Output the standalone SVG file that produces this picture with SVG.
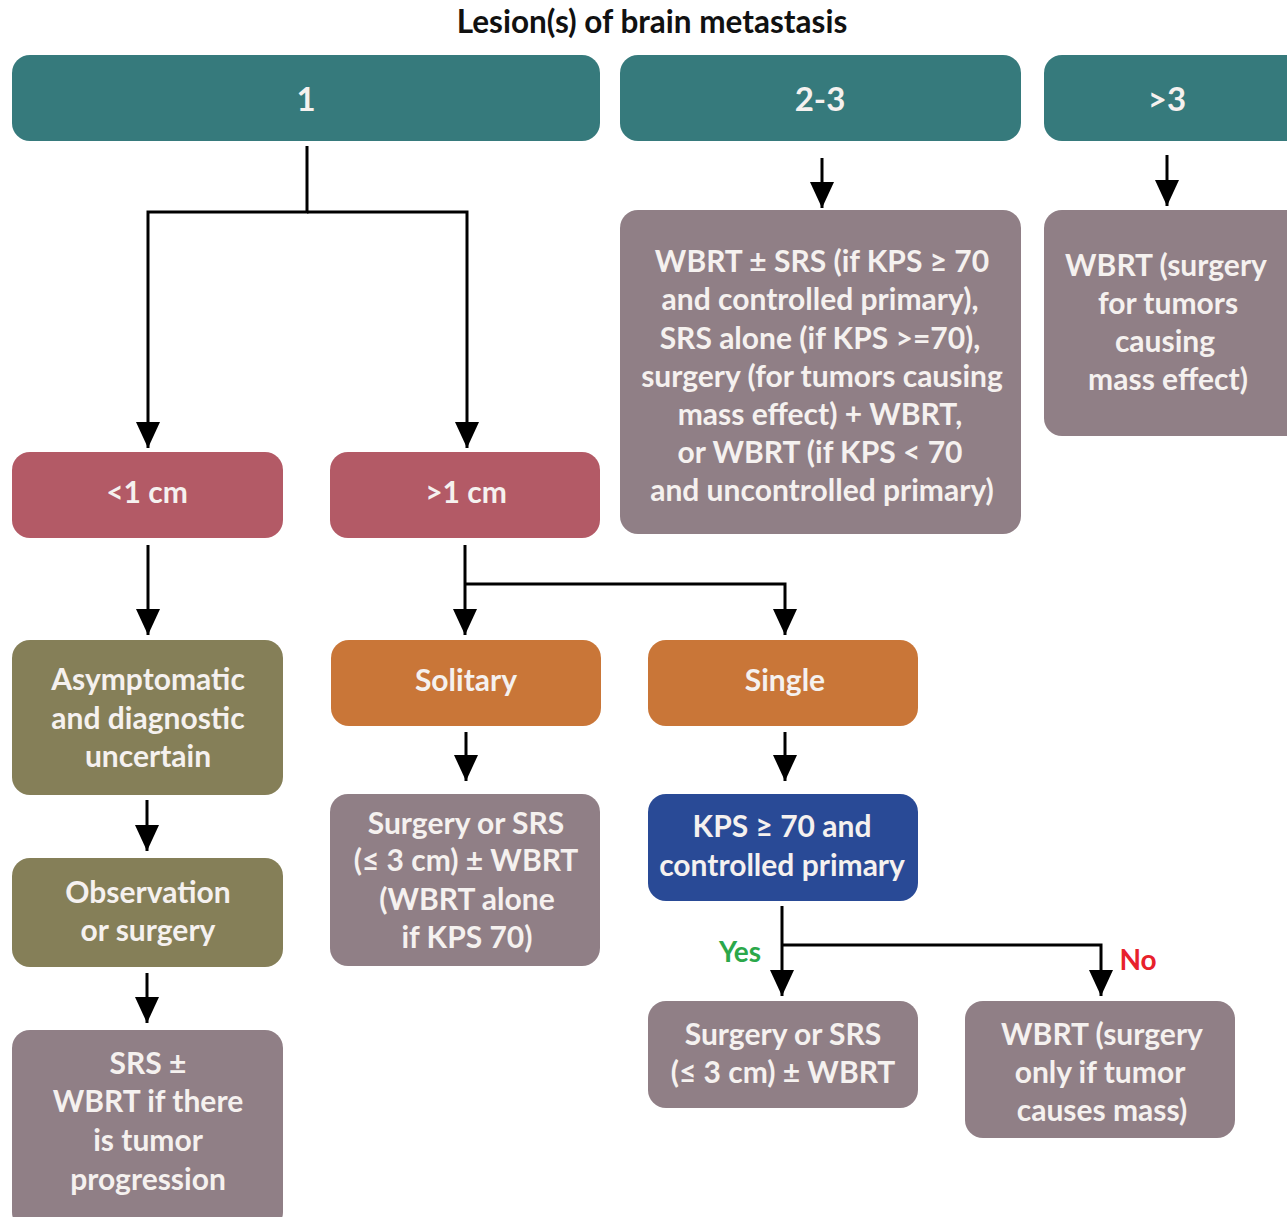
<svg xmlns="http://www.w3.org/2000/svg" width="1287" height="1217" viewBox="0 0 1287 1217">
<defs>
<marker id="ah" markerWidth="26" markerHeight="24" refX="26" refY="12" orient="auto" markerUnits="userSpaceOnUse">
<path d="M0,0 L26,12 L0,24 Z" fill="#000"/>
</marker>
<style>
text{font-family:"Lato","Open Sans",sans-serif;text-anchor:middle;font-weight:bold;}
.t{fill:#F5F1EF;font-size:30px;}
.big{font-size:33px;}
.teal{fill:#367A7C;}
.red{fill:#B35A66;}
.grey{fill:#907F86;}
.olive{fill:#857F58;}
.orange{fill:#C97638;}
.blue{fill:#294A96;}
.c{fill:none;stroke:#000;stroke-width:3;}
</style>
</defs>
<rect width="1287" height="1217" fill="#fff"/>
<text x="652" y="33" style="font-size:31.5px;font-weight:bold;fill:#111">Lesion(s) of brain metastasis</text>

<g id="n1"><rect class="teal" x="12" y="55" width="588" height="86" rx="18"/><text class="t big" x="306" y="111">1</text></g>
<g id="n23"><rect class="teal" x="620" y="55" width="401" height="86" rx="18"/><text class="t big" x="820" y="111">2-3</text></g>
<g id="n3"><rect class="teal" x="1044" y="55" width="260" height="86" rx="18"/><text class="t big" x="1167" y="111">&gt;3</text></g>

<g id="lt1"><rect class="red" x="12" y="452" width="271" height="86" rx="18"/><text class="t" x="147" y="503">&lt;1 cm</text></g>
<g id="gt1"><rect class="red" x="330" y="452" width="270" height="86" rx="18"/><text class="t" x="466" y="503">&gt;1 cm</text></g>

<g id="wbrt23"><rect class="grey" x="620" y="210" width="401" height="324" rx="18"/>
<text class="t" x="822" y="272">WBRT ± SRS (if KPS ≥ 70</text>
<text class="t" x="820" y="310">and controlled primary),</text>
<text class="t" x="820" y="349">SRS alone (if KPS &gt;=70),</text>
<text class="t" x="822" y="387">surgery (for tumors causing</text>
<text class="t" x="820" y="425">mass effect) + WBRT,</text>
<text class="t" x="820" y="463">or WBRT (if KPS &lt; 70</text>
<text class="t" x="822" y="501">and uncontrolled primary)</text>
</g>
<g id="wbrt3"><rect class="grey" x="1044" y="210" width="260" height="226" rx="18"/>
<text class="t" x="1166" y="276">WBRT (surgery</text>
<text class="t" x="1168" y="314">for tumors</text>
<text class="t" x="1165" y="352">causing</text>
<text class="t" x="1168" y="390">mass effect)</text>
</g>

<g id="asym"><rect class="olive" x="12" y="640" width="271" height="155" rx="18"/>
<text class="t" x="148" y="690">Asymptomatic</text>
<text class="t" x="148" y="729">and diagnostic</text>
<text class="t" x="148" y="767">uncertain</text>
</g>
<g id="solitary"><rect class="orange" x="331" y="640" width="270" height="86" rx="18"/><text class="t" x="466" y="691">Solitary</text></g>
<g id="single"><rect class="orange" x="648" y="640" width="270" height="86" rx="18"/><text class="t" x="785" y="691">Single</text></g>

<g id="obs"><rect class="olive" x="12" y="858" width="271" height="109" rx="18"/>
<text class="t" x="148" y="903">Observation</text>
<text class="t" x="148" y="941">or surgery</text>
</g>
<g id="srs"><rect class="grey" x="12" y="1030" width="271" height="200" rx="18"/>
<text class="t" x="148" y="1074">SRS ±</text>
<text class="t" x="148" y="1112">WBRT if there</text>
<text class="t" x="148" y="1151">is tumor</text>
<text class="t" x="148" y="1190">progression</text>
</g>
<g id="solsurg"><rect class="grey" x="330" y="794" width="270" height="172" rx="18"/>
<text class="t" x="466" y="834">Surgery or SRS</text>
<text class="t" x="466" y="871">(≤ 3 cm) ± WBRT</text>
<text class="t" x="467" y="910">(WBRT alone</text>
<text class="t" x="467" y="948">if KPS 70)</text>
</g>
<g id="kps"><rect class="blue" x="648" y="794" width="270" height="107" rx="18"/>
<text class="t" x="782" y="837">KPS ≥ 70 and</text>
<text class="t" x="782" y="876">controlled primary</text>
</g>
<g id="yes"><rect class="grey" x="648" y="1001" width="270" height="107" rx="18"/>
<text class="t" x="783" y="1045">Surgery or SRS</text>
<text class="t" x="783" y="1083">(≤ 3 cm) ± WBRT</text>
</g>
<g id="no"><rect class="grey" x="965" y="1001" width="270" height="137" rx="18"/>
<text class="t" x="1102" y="1045">WBRT (surgery</text>
<text class="t" x="1100" y="1083">only if tumor</text>
<text class="t" x="1102" y="1121">causes mass)</text>
</g>

<g id="connectors">
<path class="c" d="M307,146 V212 H148 V448" marker-end="url(#ah)"/>
<path class="c" d="M307,212 H467 V448" marker-end="url(#ah)"/>
<path class="c" d="M822,158 V208" marker-end="url(#ah)"/>
<path class="c" d="M1167,155 V206" marker-end="url(#ah)"/>
<path class="c" d="M148,545 V635" marker-end="url(#ah)"/>
<path class="c" d="M465,545 V635" marker-end="url(#ah)"/>
<path class="c" d="M465,584 H785 V635" marker-end="url(#ah)"/>
<path class="c" d="M466,732 V781" marker-end="url(#ah)"/>
<path class="c" d="M785,732 V781" marker-end="url(#ah)"/>
<path class="c" d="M147,800 V851" marker-end="url(#ah)"/>
<path class="c" d="M147,973 V1023" marker-end="url(#ah)"/>
<path class="c" d="M782,906 V996" marker-end="url(#ah)"/>
<path class="c" d="M782,945 H1101 V996" marker-end="url(#ah)"/>
<text x="740" y="962" style="font-size:28px;fill:#2BA84A">Yes</text>
<text x="1138" y="970" style="font-size:28px;fill:#E8212B">No</text>
</g>
</svg>
